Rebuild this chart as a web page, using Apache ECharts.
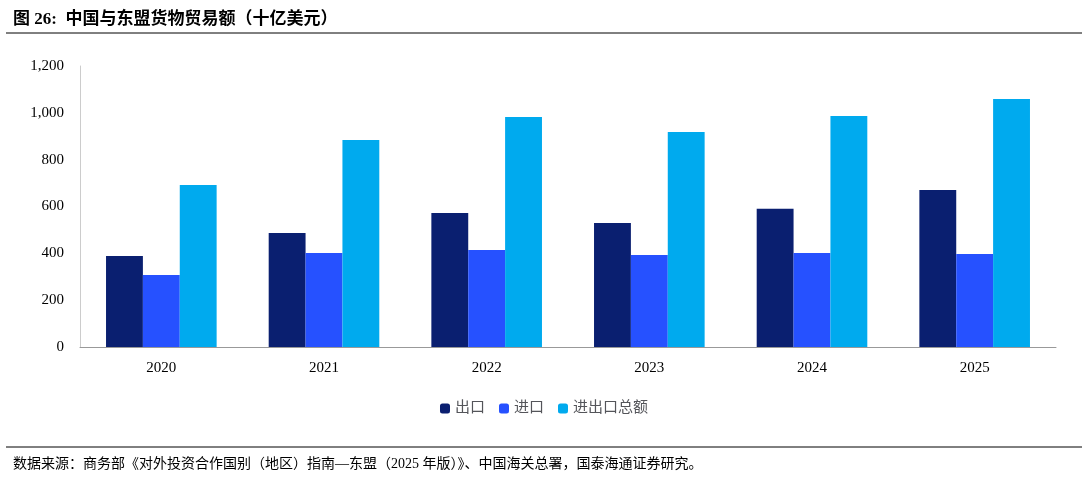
<!DOCTYPE html>
<html><head><meta charset="utf-8">
<script src="https://cdn.jsdelivr.net/npm/echarts@6/dist/echarts.min.js"></script>
<style>body{margin:0;background:#fff}#c{width:1088px;height:487px}</style>
</head><body><div id="c"></div>
<script>
const years = ['2020', '2021', '2022', '2023', '2024', '2025'];
const exportVals = [389, 487, 572, 530, 590, 670];
const importVals = [307, 401, 414, 393, 401, 397];
const totalVals = [692, 884, 982, 918, 986, 1059];
const yTicks = [0, 200, 400, 600, 800, 1000, 1200];

const chart = echarts.init(document.getElementById('c'));
const serif = '"Liberation Serif", "Noto Sans CJK SC", serif';
chart.setOption({
    animation: false,
    textStyle: { fontFamily: serif, color: '#000' },
    title: [
        { text: '图 26:  中国与东盟货物贸易额（十亿美元）', left: 8, top: 6,
          textStyle: { fontSize: 17, fontWeight: 'bold', fontFamily: serif, color: '#000' } },
        { text: '数据来源：商务部《对外投资合作国别（地区）指南—东盟（2025 年版）》、中国海关总署，国泰海通证券研究。',
          left: 8, top: 452, textStyle: { fontSize: 14, fontWeight: 'normal', fontFamily: serif, color: '#000' } }
    ],
    graphic: [
        { type: 'line', shape: { x1: 6, y1: 33, x2: 1082, y2: 33 }, style: { stroke: '#000', lineWidth: 1 } },
        { type: 'line', shape: { x1: 6, y1: 447, x2: 1082, y2: 447 }, style: { stroke: '#000', lineWidth: 1 } }
    ],
    legend: {
        bottom: 66, left: 'center', itemWidth: 10, itemHeight: 10, itemGap: 14,
        textStyle: { fontSize: 15, fontFamily: serif },
        data: ['出口', '进口', '进出口总额']
    },
    grid: { left: 80, right: 32, top: 66, bottom: 140 },
    xAxis: {
        type: 'category', data: years,
        axisLine: { lineStyle: { color: '#999' } },
        axisTick: { show: false },
        axisLabel: { fontSize: 15, margin: 14, color: '#000' }
    },
    yAxis: {
        type: 'value', min: 0, max: 1200, interval: 200,
        axisLine: { show: true, lineStyle: { color: '#ccc' } },
        splitLine: { show: false },
        axisLabel: { fontSize: 15, color: '#000', margin: 16,
            formatter: v => yTicks.includes(v) ? v.toLocaleString('en-US') : '' }
    },
    series: [
        { name: '出口', type: 'bar', data: exportVals, barGap: '0%', barCategoryGap: '32%',
          itemStyle: { color: '#0a1f70' } },
        { name: '进口', type: 'bar', data: importVals, itemStyle: { color: '#2651ff' } },
        { name: '进出口总额', type: 'bar', data: totalVals, itemStyle: { color: '#00aaee' } }
    ]
});
</script></body></html>
